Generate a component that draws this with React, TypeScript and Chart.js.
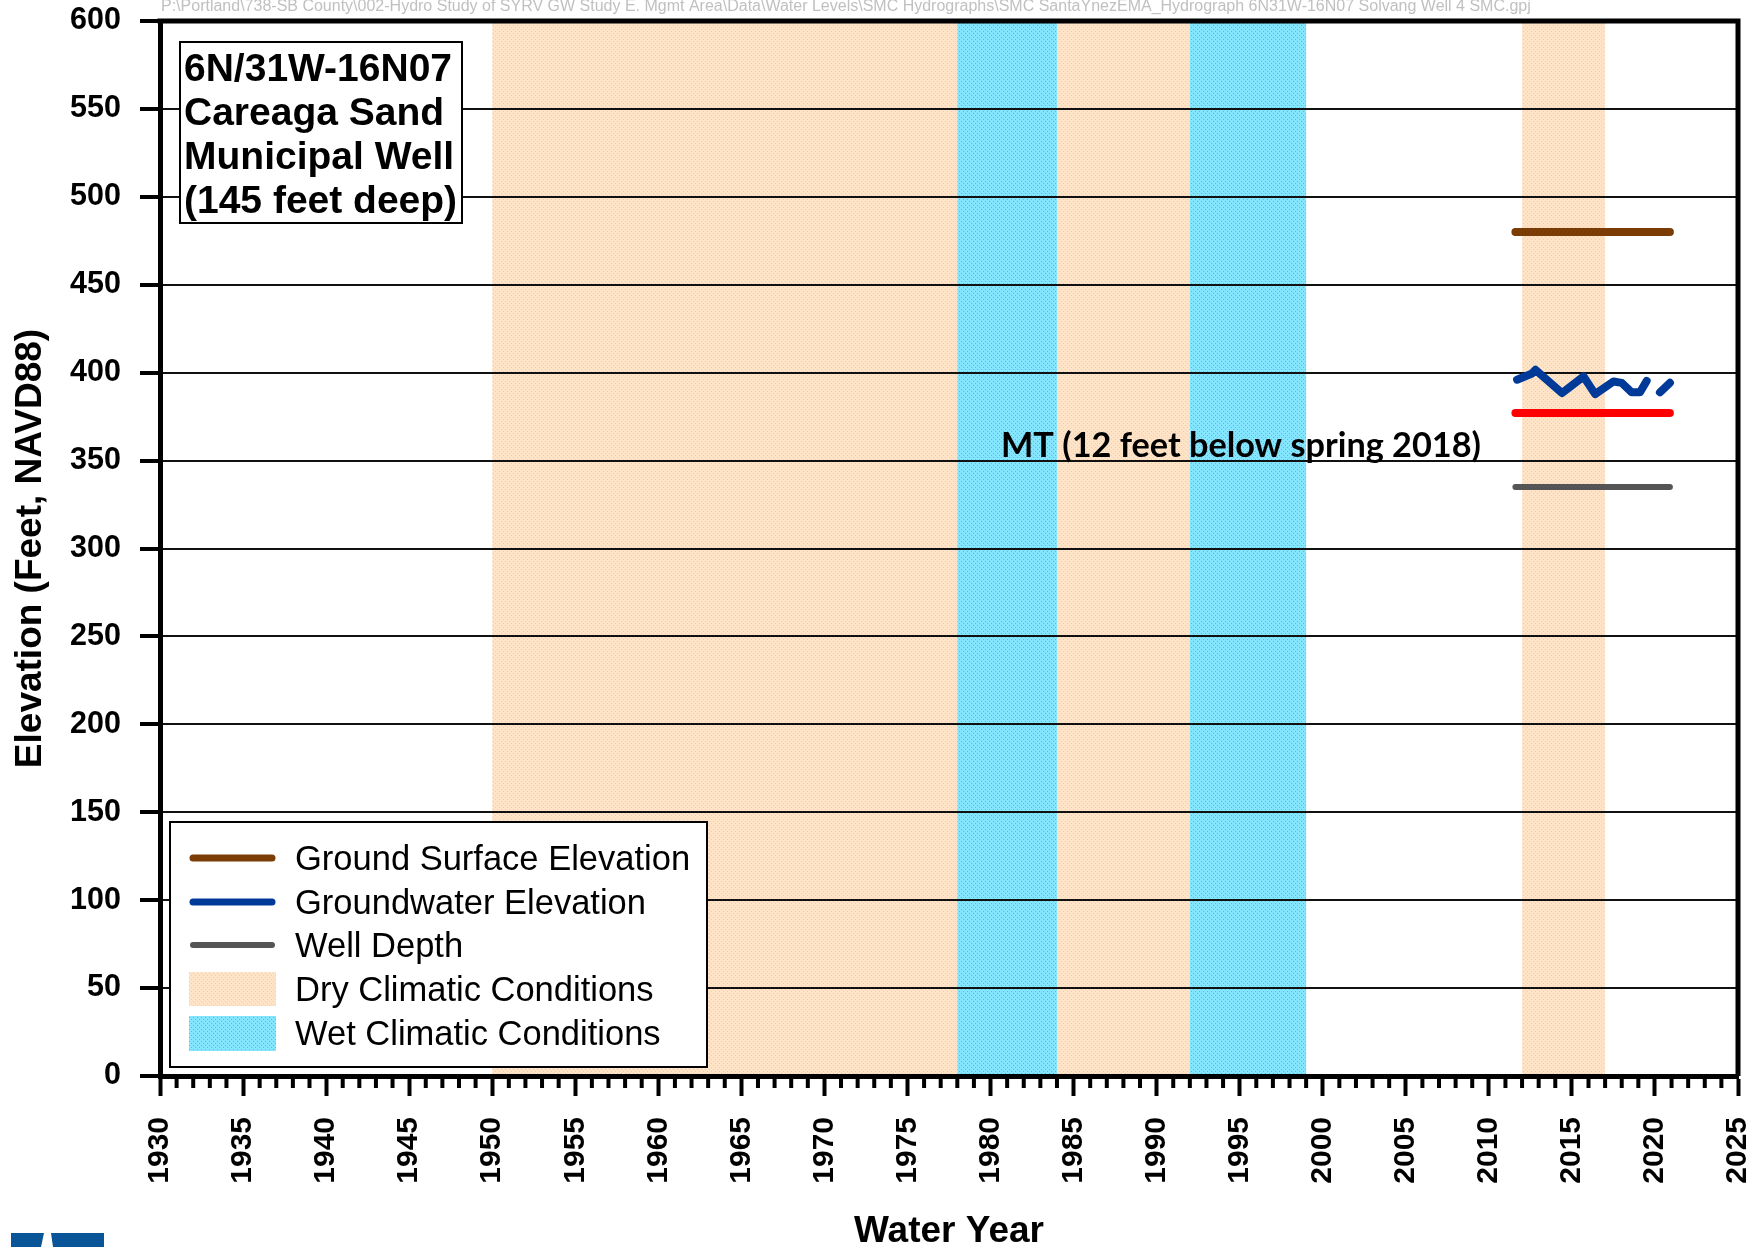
import { useEffect, useRef } from "react";
import { Chart, registerables } from "chart.js";

Chart.register(...registerables);

// ---------- data ----------
const pathText =
  "P:\\Portland\\738-SB County\\002-Hydro Study of SYRV GW Study E. Mgmt Area\\Data\\Water Levels\\SMC Hydrographs\\SMC SantaYnezEMA_Hydrograph 6N31W-16N07 Solvang Well 4 SMC.gpj";
const wellTitle = ["6N/31W-16N07", "Careaga Sand", "Municipal Well", "(145 feet deep)"];
const mtLabel = "MT (12 feet below spring 2018)";
const xTitle = "Water Year";
const yTitle = "Elevation (Feet, NAVD88)";

const xMin = 1930;
const xMax = 2025;
const xMajorStep = 5;
const yMin = 0;
const yMax = 600;
const yStep = 50;

const refYears = [2011.6, 2020.9];
const groundSurface = [480, 480];
const minimumThreshold = [377, 377];
const wellDepth = [335, 335];

const gwYears = [2011.7, 2012.6, 2012.8, 2014.4, 2015.7, 2016.4, 2017.5, 2018.0, 2018.6, 2019.1, 2019.5, 2019.9, 2020.3, 2020.9];
const gwLevels: (number | null)[] = [396, 399.5, 401.6, 388.4, 397.8, 387.8, 395, 394.2, 388.8, 388.8, 395.3, null, 388.8, 394.2];

const dryStart = [1950, 1984, 2012];
const dryEnd = [1978, 1992, 2017];
const wetStart = [1978, 1992];
const wetEnd = [1984, 1999];

const legendLabels = [
  "Ground Surface Elevation",
  "Groundwater Elevation",
  "Well Depth",
  "Dry Climatic Conditions",
  "Wet Climatic Conditions",
];

const COLORS = {
  ground: "#7B3C06",
  gw: "#003A99",
  mt: "#FF0000",
  depth: "#555555",
  dryBase: "#FFE3C6",
  dryDot: "#FACDA0",
  wetBase: "#84E5FF",
  wetDot: "#3CC6F0",
};

const FONT = "'Liberation Sans', Arial, sans-serif";

function makePattern(ctx: CanvasRenderingContext2D, base: string, dot: string) {
  const c = document.createElement("canvas");
  c.width = 4;
  c.height = 4;
  const p = c.getContext("2d")!;
  p.fillStyle = base;
  p.fillRect(0, 0, 4, 4);
  p.fillStyle = dot;
  p.fillRect(1, 1, 1, 1);
  p.fillRect(3, 3, 1, 1);
  return ctx.createPattern(c, "repeat") || base;
}

const bandsPlugin = {
  id: "bands",
  beforeDraw(chart: any) {
    const { ctx, chartArea, scales } = chart;
    ctx.save();
    ctx.fillStyle = "#fff";
    ctx.fillRect(0, 0, chart.width, chart.height);
    const x = scales.x;
    const dry = makePattern(ctx, COLORS.dryBase, COLORS.dryDot);
    const wet = makePattern(ctx, COLORS.wetBase, COLORS.wetDot);
    const h = chartArea.bottom - chartArea.top;
    ctx.fillStyle = dry;
    dryStart.forEach((s, i) => {
      const a = x.getPixelForValue(s);
      const b = x.getPixelForValue(dryEnd[i]);
      ctx.fillRect(a, chartArea.top, b - a, h);
    });
    ctx.fillStyle = wet;
    wetStart.forEach((s, i) => {
      const a = x.getPixelForValue(s);
      const b = x.getPixelForValue(wetEnd[i]);
      ctx.fillRect(a, chartArea.top, b - a, h);
    });
    ctx.restore();
  },
};

const decorPlugin = {
  id: "decor",
  afterDraw(chart: any) {
    const { ctx, chartArea, scales } = chart;
    const x = scales.x;
    ctx.save();

    // frame top & right
    ctx.strokeStyle = "#000";
    ctx.lineWidth = 5;
    ctx.lineCap = "butt";
    ctx.beginPath();
    ctx.moveTo(chartArea.left - 2.5, chartArea.top);
    ctx.lineTo(chartArea.right + 2.5, chartArea.top);
    ctx.moveTo(chartArea.right, chartArea.top);
    ctx.lineTo(chartArea.right, chartArea.bottom);
    ctx.stroke();

    // minor x ticks
    ctx.lineWidth = 4;
    ctx.beginPath();
    for (let yr = xMin; yr <= xMax; yr++) {
      if (yr % xMajorStep === 0) continue;
      const px = x.getPixelForValue(yr);
      ctx.moveTo(px, chartArea.bottom + 2);
      ctx.lineTo(px, chartArea.bottom + 12);
    }
    ctx.stroke();

    // path text
    let size = 14;
    ctx.font = `${size}px ${FONT}`;
    const w = ctx.measureText(pathText).width;
    size = (size * 1371) / w;
    ctx.font = `${size}px ${FONT}`;
    ctx.fillStyle = "#C0C0C0";
    ctx.textBaseline = "alphabetic";
    ctx.textAlign = "left";
    ctx.fillText(pathText, 161, 5.6 + 0.358 * size);

    // title box
    ctx.fillStyle = "#fff";
    ctx.fillRect(180, 42, 282, 181);
    ctx.strokeStyle = "#000";
    ctx.lineWidth = 2;
    ctx.strokeRect(180, 42, 282, 181);
    ctx.fillStyle = "#000";
    ctx.font = `bold 39px ${FONT}`;
    wellTitle.forEach((t, i) => {
      ctx.fillText(t, 184, 67.5 + i * 44 + 0.358 * 39);
    });

    // MT label
    let ms = 31;
    ctx.font = `bold ${ms}px Lato, 'Open Sans', sans-serif`;
    const mw = ctx.measureText(mtLabel).width;
    ms = (ms * 480) / mw;
    ctx.font = `bold ${ms}px Lato, 'Open Sans', sans-serif`;
    ctx.fillStyle = "#000";
    ctx.fillText(mtLabel, 1001, 457);

    // legend
    ctx.fillStyle = "#fff";
    ctx.fillRect(170, 822, 537, 245);
    ctx.strokeStyle = "#000";
    ctx.lineWidth = 2;
    ctx.strokeRect(170, 822, 537, 245);
    const ys = [858, 902, 945, 989, 1033];
    const lineCols = [COLORS.ground, COLORS.gw, COLORS.depth];
    const lineW = [7, 7, 6];
    ctx.lineCap = "round";
    lineCols.forEach((c, i) => {
      ctx.strokeStyle = c;
      ctx.lineWidth = lineW[i];
      ctx.beginPath();
      ctx.moveTo(193, ys[i]);
      ctx.lineTo(272, ys[i]);
      ctx.stroke();
    });
    ctx.fillStyle = makePattern(ctx, COLORS.dryBase, COLORS.dryDot);
    ctx.fillRect(189, 972, 87, 34);
    ctx.fillStyle = makePattern(ctx, COLORS.wetBase, COLORS.wetDot);
    ctx.fillRect(189, 1016, 87, 35);
    ctx.fillStyle = "#000";
    ctx.font = `34.5px ${FONT}`;
    legendLabels.forEach((t, i) => {
      ctx.fillText(t, 295, ys[i] + 0.358 * 34.5);
    });

    // logo fragment
    ctx.fillStyle = "#0A5597";
    ctx.beginPath();
    ctx.moveTo(11, 1233);
    ctx.lineTo(44, 1233);
    ctx.lineTo(41, 1247);
    ctx.lineTo(11, 1247);
    ctx.closePath();
    ctx.fill();
    ctx.beginPath();
    ctx.moveTo(51, 1233);
    ctx.lineTo(104, 1233);
    ctx.lineTo(104, 1247);
    ctx.lineTo(53, 1247);
    ctx.closePath();
    ctx.fill();

    ctx.restore();
  },
};

export default function App() {
  const ref = useRef<HTMLCanvasElement>(null);

  useEffect(() => {
    if (!ref.current) return;
    const lineDs = (label: string, ys: number[], color: string, width: number) => ({
      label,
      data: refYears.map((x, i) => ({ x, y: ys[i] })),
      borderColor: color,
      backgroundColor: color,
      borderWidth: width,
      borderCapStyle: "round" as const,
      pointRadius: 0,
      fill: false,
    });
    const chart = new Chart(ref.current, {
      type: "line",
      data: {
        datasets: [
          lineDs("Ground Surface Elevation", groundSurface, COLORS.ground, 8),
          {
            label: "Groundwater Elevation",
            data: gwYears.map((x, i) => ({ x, y: gwLevels[i] as any })),
            borderColor: COLORS.gw,
            backgroundColor: COLORS.gw,
            borderWidth: 8,
            borderCapStyle: "round",
            borderJoinStyle: "round",
            pointRadius: 0,
            spanGaps: false,
            fill: false,
          },
          lineDs("MT", minimumThreshold, COLORS.mt, 8),
          lineDs("Well Depth", wellDepth, COLORS.depth, 6),
        ],
      },
      options: {
        responsive: false,
        animation: false,
        devicePixelRatio: 1,
        layout: { padding: { left: 0, top: 21, right: 26, bottom: 0 } },
        plugins: {
          legend: { display: false },
          tooltip: { enabled: false },
        },
        scales: {
          x: {
            type: "linear",
            min: xMin,
            max: xMax,
            position: "bottom",
            afterFit: (s: any) => {
              s.height = 171;
              s.paddingLeft = 0;
              s.paddingRight = 0;
              s.paddingTop = 0;
              s.paddingBottom = 0;
            },
            ticks: {
              stepSize: xMajorStep,
              autoSkip: false,
              maxRotation: 90,
              minRotation: 90,
              padding: 21,
              color: "#000",
              font: { family: FONT, weight: "bold", size: 30 },
              callback: (v: any) => String(v),
            },
            grid: {
              drawOnChartArea: false,
              drawTicks: true,
              tickLength: 20,
              tickWidth: 4,
              tickColor: "#000",
            },
            border: { display: true, color: "#000", width: 5 },
            title: {
              display: true,
              text: xTitle,
              color: "#000",
              font: { family: FONT, weight: "bold", size: 37, lineHeight: 0.8 },
              padding: { top: 0, bottom: 0 },
            },
          },
          y: {
            min: yMin,
            max: yMax,
            afterFit: (s: any) => {
              s.width = 160;
              s.paddingLeft = 0;
              s.paddingRight = 0;
              s.paddingTop = 0;
              s.paddingBottom = 0;
            },
            ticks: {
              stepSize: yStep,
              padding: 19,
              color: "#000",
              font: { family: FONT, weight: "bold", size: 30.5 },
            },
            grid: {
              color: "#111",
              lineWidth: 2,
              drawTicks: true,
              tickLength: 20,
              tickWidth: 4,
              tickColor: "#000",
            },
            border: { display: true, color: "#000", width: 5 },
            title: {
              display: true,
              text: yTitle,
              color: "#000",
              font: { family: FONT, weight: "bold", size: 37, lineHeight: 1 },
              padding: { top: 12, bottom: 0 },
            },
          },
        },
      },
      plugins: [bandsPlugin, decorPlugin],
    });
    return () => chart.destroy();
  }, []);

  return (
    <div style={{ position: "fixed", left: 0, top: 0, width: 1764, height: 1247, background: "#fff" }}>
      <canvas ref={ref} width={1764} height={1247} />
    </div>
  );
}
